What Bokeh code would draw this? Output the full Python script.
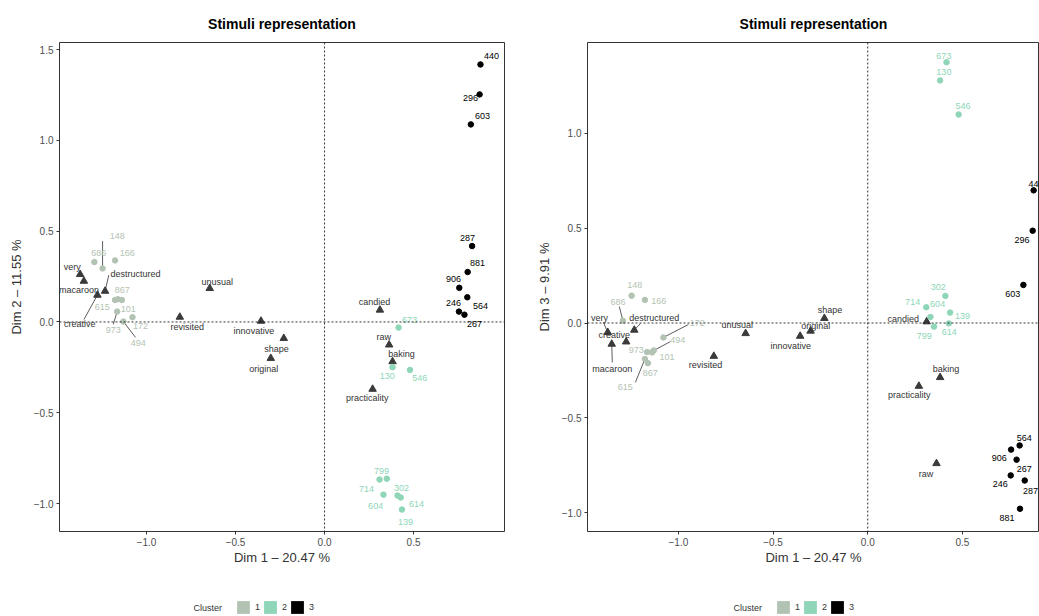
from bokeh.plotting import figure
from bokeh.layouts import row, column
from bokeh.models import (Span, Legend, LegendItem, ColumnDataSource, FixedTicker,
                          Range1d, CustomJSTickFormatter, Label)
from bokeh.embed import file_html
from bokeh.resources import INLINE
from bokeh.core.properties import value

FONT = "Liberation Sans"
CLUSTER_COLORS = {"1": "#B3C3B3", "2": "#8ED6B7", "3": "#000000"}
NAN = float("nan")

# ---------------- data ----------------
ind_ids = ["148", "166", "686", "867", "615", "101", "172", "973", "494",
           "673", "130", "546", "799", "714", "302", "604", "614", "139",
           "440", "296", "603", "287", "881", "906", "564", "246", "267"]
ind_cluster = ["1"] * 9 + ["2"] * 9 + ["3"] * 9
ind_dim1 = [-1.247, -1.177, -1.293, -1.161, -1.177, -1.139, -1.079, -1.165, -1.130,
            0.416, 0.382, 0.480, 0.350, 0.309, 0.410, 0.331, 0.428, 0.435,
            0.876, 0.871, 0.822, 0.829, 0.804, 0.757, 0.802, 0.755, 0.786]
ind_dim2 = [0.295, 0.339, 0.330, 0.125, 0.121, 0.121, 0.026, 0.057, 0.002,
            -0.031, -0.249, -0.264, -0.863, -0.868, -0.956, -0.951, -0.967, -1.033,
            1.418, 1.253, 1.088, 0.418, 0.275, 0.188, 0.136, 0.057, 0.040]
ind_dim3 = [0.144, 0.122, 0.012, -0.212, -0.190, -0.155, -0.076, -0.153, -0.145,
            1.376, 1.280, 1.100, -0.019, 0.083, 0.143, 0.032, -0.002, 0.055,
            0.700, 0.487, 0.201, -0.831, -0.980, -0.668, -0.646, -0.804, -0.721]
# repelled label positions (data units)
ind_lab12_x = [-1.165, -1.108, -1.268, -1.137, -1.249, -1.103, -1.034, -1.187, -1.047,
               0.478, 0.352, 0.535, 0.320, 0.236, 0.433, 0.287, 0.517, 0.455,
               0.938, 0.820, 0.888, 0.803, 0.860, 0.725, 0.876, 0.725, 0.843]
ind_lab12_y = [0.473, 0.381, 0.381, 0.176, 0.082, 0.070, -0.022, -0.046, -0.114,
               0.011, -0.297, -0.309, -0.819, -0.918, -0.912, -1.011, -1.005, -1.099,
               1.467, 1.231, 1.132, 0.462, 0.324, 0.236, 0.088, 0.104, -0.011]
ind_lab13_x = [-1.231, -1.104, -1.319, -1.148, -1.280, -1.060, -0.901, -1.222, -1.004,
               0.402, 0.402, 0.503, 0.298, 0.237, 0.372, 0.369, 0.430, 0.501,
               0.889, 0.815, 0.766, 0.859, 0.735, 0.695, 0.827, 0.700, 0.827]
ind_lab13_y = [0.201, 0.118, 0.113, -0.265, -0.340, -0.180, -0.002, -0.143, -0.090,
               1.407, 1.323, 1.143, -0.067, 0.113, 0.189, 0.099, -0.046, 0.039,
               0.735, 0.439, 0.153, -0.884, -1.028, -0.711, -0.605, -0.848, -0.769]

var_names = ["very", "macaroon", "destructured", "creative", "unusual", "revisited",
             "innovative", "shape", "original", "candied", "raw", "baking", "practicality"]
var_dim1 = [-1.373, -1.352, -1.233, -1.276, -0.645, -0.813, -0.357, -0.229, -0.302,
            0.311, 0.363, 0.382, 0.270]
var_dim2 = [0.262, 0.225, 0.170, 0.148, 0.185, 0.027, 0.005, -0.090, -0.200,
            0.066, -0.126, -0.218, -0.370]
var_dim3 = [-0.049, -0.111, -0.037, -0.099, -0.055, -0.175, -0.069, 0.025, -0.042,
            0.007, -0.741, -0.287, -0.333]
var_lab12_x = [-1.417, -1.380, -1.062, -1.375, -0.603, -0.771, -0.397, -0.270, -0.341,
               0.281, 0.333, 0.433, 0.240]
var_lab12_y = [0.302, 0.174, 0.265, -0.009, 0.220, -0.027, -0.049, -0.147, -0.257,
               0.110, -0.081, -0.177, -0.419]
var_lab13_x = [-1.416, -1.349, -1.127, -1.339, -0.689, -0.857, -0.407, -0.199, -0.275,
               0.187, 0.307, 0.413, 0.219]
var_lab13_y = [0.025, -0.240, 0.025, -0.063, -0.011, -0.222, -0.122, 0.069, -0.014,
               0.020, -0.794, -0.245, -0.381]

# label-side ends of the repel segments (name, x, y)
seg12_ind = [("148", -1.247, 0.445), ("973", -1.187, -0.013), ("494", -1.062, -0.085)]
seg12_var = [("destructured", -1.212, 0.258), ("creative", -1.352, 0.013)]
seg13_ind = [("686", -1.312, 0.087), ("172", -0.947, -0.008), ("494", -1.042, -0.098),
             ("615", -1.227, -0.313)]
seg13_var = [("very", -1.396, 0.003), ("destructured", -1.201, -0.003),
             ("macaroon", -1.349, -0.208)]

x_ticks = [-1.0, -0.5, 0.0, 0.5]
y2_ticks = [-1.0, -0.5, 0.0, 0.5, 1.0, 1.5]
y3_ticks = [-1.0, -0.5, 0.0, 0.5, 1.0]
cluster_levels = ["1", "2", "3"]
legend_title = "Cluster"

fmt = CustomJSTickFormatter(code="return tick.toFixed(1).replace('-', '\u2212');")

MAIN_H = 590
LEG_H = 26


def make_panel(ydim, lab_x, lab_y, vlab_x, vlab_y, seg_ind, seg_var, ylabel, yticks,
               xr, yr, width, mb_left, mb_right):
    p = figure(width=width, height=MAIN_H, output_backend="svg", toolbar_location=None,
               x_range=Range1d(*xr), y_range=Range1d(*yr),
               min_border_left=mb_left, min_border_right=mb_right,
               min_border_top=42, min_border_bottom=MAIN_H - 531,
               title="Stimuli representation")
    p.title.align = "center"
    p.title.vertical_align = "top"
    p.title.text_font = FONT
    p.title.text_font_size = "14px"
    p.title.text_font_style = "bold"
    p.title.text_color = "#000000"
    p.title.standoff = 18
    p.xgrid.visible = False
    p.ygrid.visible = False
    p.outline_line_color = "#333333"
    p.outline_line_width = 1
    p.background_fill_color = "white"
    p.border_fill_color = "white"

    for ax in (p.xaxis[0], p.yaxis[0]):
        ax.axis_line_color = None
        ax.major_tick_line_color = "#333333"
        ax.major_tick_out = 3
        ax.major_tick_in = 0
        ax.minor_tick_line_color = None
        ax.major_label_text_font = FONT
        ax.major_label_text_font_size = "10px"
        ax.major_label_text_color = "#4D4D4D"
        ax.major_label_standoff = 3
        ax.axis_label_text_font = FONT
        ax.axis_label_text_font_size = "13px"
        ax.axis_label_text_font_style = "normal"
        ax.axis_label_text_color = "#333333"
        ax.formatter = fmt
    p.xaxis[0].axis_label_standoff = 1
    p.yaxis[0].axis_label_standoff = 7
    p.xaxis[0].ticker = FixedTicker(ticks=x_ticks)
    p.yaxis[0].ticker = FixedTicker(ticks=yticks)
    p.xaxis[0].axis_label = "Dim 1 \u2013 20.47 %"
    p.yaxis[0].axis_label = ylabel

    p.add_layout(Span(location=0, dimension="width", line_color="#000000",
                      line_width=0.8, line_dash="2 2"))
    p.add_layout(Span(location=0, dimension="height", line_color="#000000",
                      line_width=0.8, line_dash="2 2"))

    # repel segments
    idx = {k: i for i, k in enumerate(ind_ids)}
    vidx = {k: i for i, k in enumerate(var_names)}
    sx0, sy0, sx1, sy1 = [], [], [], []
    for name, ex, ey in seg_ind:
        i = idx[name]
        sx0.append(ind_dim1[i]); sy0.append(ydim[i]); sx1.append(ex); sy1.append(ey)
    vy = var_dim2 if ydim is ind_dim2 else var_dim3
    for name, ex, ey in seg_var:
        i = vidx[name]
        sx0.append(var_dim1[i]); sy0.append(vy[i]); sx1.append(ex); sy1.append(ey)
    p.segment(sx0, sy0, sx1, sy1, line_color="#333333", line_width=0.8)

    # variables
    p.scatter(var_dim1, vy, marker="triangle", size=7.5, fill_color="#3A3A3A",
              line_color="#3A3A3A")
    p.text(vlab_x, vlab_y, text=var_names, text_font=value(FONT), text_font_size="9px",
           text_color="#333333", text_align="center", text_baseline="middle")

    # individuals
    colors = [CLUSTER_COLORS[c] for c in ind_cluster]
    src = ColumnDataSource(dict(x=ind_dim1, y=ydim, lx=lab_x, ly=lab_y, t=ind_ids, c=colors))
    p.scatter("x", "y", source=src, marker="circle", size=5.5, fill_color="c", line_color="c")
    p.text("lx", "ly", text="t", source=src, text_font=value(FONT), text_font_size="9px",
           text_color="c", text_align="center", text_baseline="middle")
    return p


def make_legend(width, title_x, items_x):
    q = figure(width=width, height=LEG_H, output_backend="svg", toolbar_location=None,
               x_range=Range1d(0, 1), y_range=Range1d(0, 1),
               x_axis_type=None, y_axis_type=None,
               min_border_left=0, min_border_right=0, min_border_top=0, min_border_bottom=0)
    q.xgrid.visible = False
    q.ygrid.visible = False
    q.outline_line_color = None
    q.background_fill_color = "white"
    q.border_fill_color = "white"
    items = []
    for lvl in cluster_levels:
        r = q.quad(left=[NAN], right=[NAN], top=[NAN], bottom=[NAN],
                   fill_color=CLUSTER_COLORS[lvl], line_color=None)
        items.append(LegendItem(label=lvl, renderers=[r]))
    leg = Legend(items=items, orientation="horizontal", location=(items_x, 1))
    leg.label_text_font = FONT
    leg.label_text_font_size = "9px"
    leg.label_text_color = "#333333"
    leg.glyph_width = 16
    leg.glyph_height = 16
    leg.label_width = 5
    leg.label_standoff = 4
    leg.spacing = 2
    leg.padding = 0
    leg.margin = 0
    leg.border_line_color = None
    leg.background_fill_alpha = 0
    q.add_layout(leg, "center")
    q.add_layout(Label(x=title_x, y=9, x_units="screen", y_units="screen", text=legend_title,
                       text_font=FONT, text_font_size="9px", text_color="#333333",
                       text_align="left", text_baseline="middle"))
    return q


p1 = make_panel(ind_dim2, ind_lab12_x, ind_lab12_y, var_lab12_x, var_lab12_y,
                seg12_ind, seg12_var, "Dim 2 \u2013 11.55 %", y2_ticks,
                (-1.489, 1.011), (-1.154, 1.539), 530, 59, 26)
p2 = make_panel(ind_dim3, ind_lab13_x, ind_lab13_y, var_lab13_x, var_lab13_y,
                seg13_ind, seg13_var, "Dim 3 \u2013 9.91 %", y3_ticks,
                (-1.480, 0.907), (-1.100, 1.480), 509, 57, 0)
l1 = make_legend(530, 193, 235)
l2 = make_legend(509, 203, 245)

layout = column(row(p1, p2), row(l1, l2))
open("out.html", "w").write(file_html(layout, INLINE))
